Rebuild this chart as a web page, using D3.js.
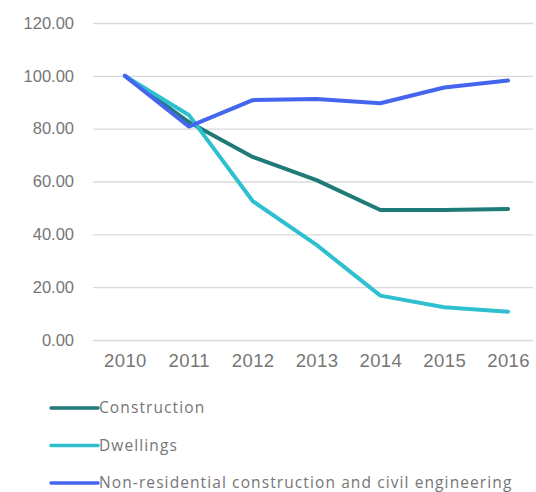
<!DOCTYPE html>
<html>
<head>
<meta charset="utf-8">
<script src="https://cdn.jsdelivr.net/npm/d3@7"></script>
<style>
  html, body { margin: 0; padding: 0; background: #fff; }
  svg { display: block; font-family: "Open Sans", "Noto Sans", sans-serif; }
</style>
</head>
<body>
<svg id="chart" width="536" height="492"></svg>
<script>
// Index values (2010 = 100)
const years = ["2010", "2011", "2012", "2013", "2014", "2015", "2016"];
const construction = [100, 82.5, 69.3, 60.5, 49.2, 49.2, 49.6];
const dwellings = [100, 85.2, 52.6, 36.0, 16.8, 12.4, 10.7];
const nonResidential = [100, 80.8, 90.8, 91.2, 89.6, 95.6, 98.2];
const yTicks = [0, 20, 40, 60, 80, 100, 120];

const seriesNames = ["Construction", "Dwellings", "Non-residential construction and civil engineering"];
const seriesValues = [construction, dwellings, nonResidential];
const seriesColors = ["#1f7b78", "#2fc0cf", "#4466ee"];

const textColor = "#767676";
const svg = d3.select("#chart");

const x = d3.scalePoint().domain(years).range([93, 540]).padding(0.5);
const y = d3.scaleLinear().domain([0, 120]).range([340, 23]);

// Horizontal gridlines with value labels
const yAxis = d3.axisLeft(y).tickValues(yTicks).tickSize(-440).tickFormat(d3.format(".2f")).tickPadding(20);
const gy = svg.append("g").attr("transform", "translate(93,0)").call(yAxis);
gy.select(".domain").remove();
gy.selectAll(".tick line").attr("stroke", "#d9d9d9").attr("stroke-width", 1.3);
gy.selectAll(".tick text").attr("fill", textColor).attr("font-size", 16.5).attr("x", -19);

// Year labels
const xAxis = d3.axisBottom(x).tickSize(0).tickPadding(14);
const gx = svg.append("g").attr("transform", "translate(0,340)").call(xAxis);
gx.select(".domain").remove();
gx.selectAll(".tick text").attr("fill", textColor).attr("font-size", 18.5).attr("letter-spacing", 0.4);

// Series lines
const line = d3.line().x((d, i) => x(years[i])).y(d => y(d));
seriesValues.forEach((vals, k) => {
  svg.append("path")
    .datum(vals)
    .attr("fill", "none")
    .attr("stroke", seriesColors[k])
    .attr("stroke-width", 4)
    .attr("stroke-linejoin", "round")
    .attr("stroke-linecap", "round")
    .attr("d", line);
});

// Legend
const legend = svg.append("g");
seriesNames.forEach((name, k) => {
  const ly = 408 + k * 37.5;
  legend.append("line")
    .attr("x1", 51).attr("x2", 98).attr("y1", ly).attr("y2", ly)
    .attr("stroke", seriesColors[k]).attr("stroke-width", 3.5).attr("stroke-linecap", "round");
  legend.append("text")
    .attr("x", 99).attr("y", ly).attr("dy", "0.35em")
    .attr("fill", textColor).attr("font-size", 15.5).attr("letter-spacing", 1.1)
    .text(name);
});
</script>
</body>
</html>
